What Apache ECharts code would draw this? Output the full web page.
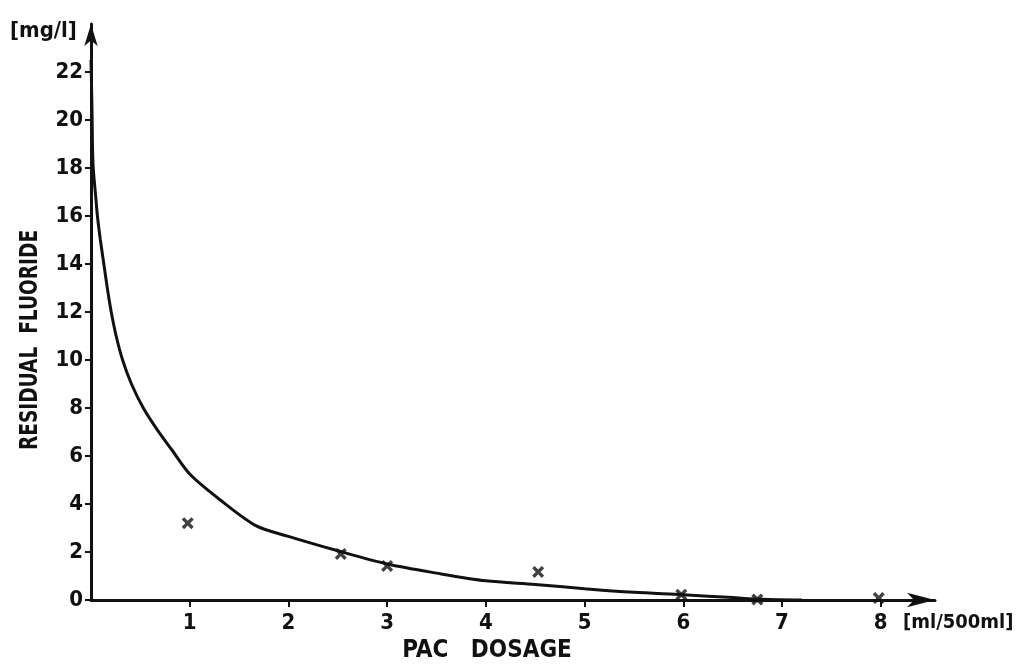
<!DOCTYPE html>
<html>
<head>
<meta charset="utf-8">
<script src="https://cdn.jsdelivr.net/npm/echarts@6/dist/echarts.min.js"></script>
<style>
  html, body { margin: 0; padding: 0; background: #fff; }
  #main { width: 1021px; height: 665px; }
</style>
</head>
<body>
<div id="main"></div>
<script>
// tick labels
var xTicks = [1, 2, 3, 4, 5, 6, 7, 8];
var yTicks = [0, 2, 4, 6, 8, 10, 12, 14, 16, 18, 20, 22];

// fitted curve: [PAC dosage, residual fluoride]
var curvePoints = [
    [0, 22.5], [0.01, 20.5], [0.02, 18.2], [0.05, 16.7], [0.065, 16],
    [0.095, 15], [0.13, 14], [0.165, 13], [0.205, 12], [0.255, 11],
    [0.32, 10], [0.41, 9.0], [0.53, 8.0], [0.67, 7.1], [0.82, 6.25],
    [1.0, 5.25], [1.3, 4.2], [1.67, 3.1], [2.0, 2.65], [2.5, 2.05],
    [3.0, 1.5], [3.5, 1.12], [4.0, 0.8], [4.5, 0.65], [5.0, 0.47],
    [5.5, 0.32], [6.0, 0.22], [6.5, 0.1], [6.8, 0.03], [7.2, 0]
];

// measured points (x marks)
var measured = [
    [0.98, 3.2], [2.53, 1.92], [3.0, 1.42], [4.53, 1.17],
    [5.98, 0.22], [6.75, 0.02], [7.98, 0.08]
];

var font = 'DejaVu Sans Condensed';
var ink = '#111';

var myChart = echarts.init(document.getElementById('main'));

myChart.setOption({
    backgroundColor: '#fff',
    animation: false,
    grid: {
        left: 91,
        right: 86,
        top: 24,
        bottom: 65
    },
    xAxis: {
        type: 'value',
        min: 0,
        max: 8.55,
        splitLine: { show: false },
        axisLine: {
            onZero: false,
            symbol: ['none', 'arrow'],
            symbolSize: [11, 28],
            lineStyle: { color: ink, width: 3 }
        },
        axisTick: {
            customValues: xTicks,
            length: 7,
            lineStyle: { color: ink, width: 2 }
        },
        axisLabel: {
            customValues: xTicks,
            margin: 12,
            color: ink,
            fontFamily: font,
            fontWeight: 'bold',
            fontSize: 22
        }
    },
    yAxis: {
        type: 'value',
        min: 0,
        max: 24,
        splitLine: { show: false },
        axisLine: {
            onZero: false,
            symbol: ['none', 'arrow'],
            symbolSize: [10, 22],
            lineStyle: { color: ink, width: 3 }
        },
        axisTick: {
            customValues: yTicks,
            length: 6,
            lineStyle: { color: ink, width: 2 }
        },
        axisLabel: {
            customValues: yTicks,
            margin: 8,
            color: ink,
            fontFamily: font,
            fontWeight: 'bold',
            fontSize: 22
        }
    },
    graphic: [
        {
            type: 'text',
            x: 10,
            y: 31,
            style: {
                text: '[mg/l]',
                fill: ink,
                font: 'bold 22px "' + font + '"',
                align: 'left',
                verticalAlign: 'middle'
            }
        },
        {
            type: 'text',
            x: 31,
            y: 340,
            rotation: Math.PI / 2,
            scaleX: 0.86,
            style: {
                text: 'RESIDUAL  FLUORIDE',
                fill: ink,
                font: 'bold 24px "' + font + '"',
                align: 'center',
                verticalAlign: 'middle'
            }
        },
        {
            type: 'text',
            x: 487,
            y: 651,
            style: {
                text: 'PAC   DOSAGE',
                fill: ink,
                font: 'bold 24px "' + font + '"',
                align: 'center',
                verticalAlign: 'middle'
            }
        },
        {
            type: 'text',
            x: 903,
            y: 623,
            style: {
                text: '[ml/500ml]',
                fill: ink,
                font: 'bold 20px "' + font + '"',
                align: 'left',
                verticalAlign: 'middle'
            }
        }
    ],
    series: [
        {
            name: 'curve',
            type: 'line',
            data: curvePoints,
            smooth: 0.3,
            showSymbol: false,
            lineStyle: { color: ink, width: 3 }
        },
        {
            name: 'measured',
            type: 'scatter',
            data: measured,
            symbol: 'path://M0,2L2,0L5,3L8,0L10,2L7,5L10,8L8,10L5,7L2,10L0,8L3,5Z',
            symbolSize: 12,
            itemStyle: { color: ink }
        }
    ]
});
</script>
</body>
</html>
